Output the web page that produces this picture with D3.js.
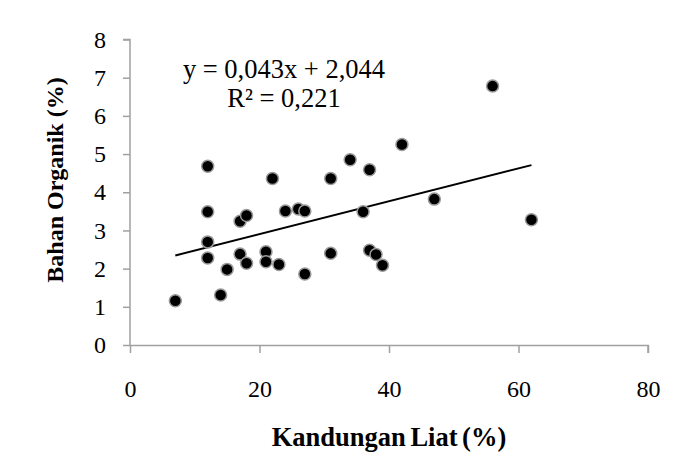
<!DOCTYPE html>
<html>
<head>
<meta charset="utf-8">
<script src="https://cdn.jsdelivr.net/npm/d3@7"></script>
<style>
  html, body { margin: 0; padding: 0; background: #fff; }
  svg { display: block; }
  text { font-family: "Liberation Serif", "Times New Roman", serif; fill: #000; }
</style>
</head>
<body>
<svg id="chart" width="676" height="476"></svg>
<script>
// Clay content (%) of each sample
const clay = [7, 12, 12, 12, 12, 14, 15, 17, 17, 18, 18, 21, 21, 22, 23, 24, 26, 27, 27,
              31, 31, 34, 36, 37, 37, 38, 39, 42, 47, 56, 62];
// Organic matter (%) of each sample
const organic = [1.16, 4.68, 3.49, 2.70, 2.28, 1.31, 1.98, 3.24, 2.38, 3.39, 2.14, 2.44, 2.18, 4.36, 2.11, 3.51, 3.56, 3.51, 1.86,
                 4.36, 2.40, 4.85, 3.49, 4.59, 2.48, 2.37, 2.09, 5.25, 3.82, 6.78, 3.28];
const xTicks = [0, 20, 40, 60, 80];
const yTicks = [0, 1, 2, 3, 4, 5, 6, 7, 8];
// Linear trend line: y = 0,043x + 2,044
const slope = 0.043, intercept = 2.044, r2 = "0,221";

const svg = d3.select("#chart");
const plotLeft = 130, plotRight = 648, plotTop = 39.5, plotBottom = 345;

const x = d3.scaleLinear().domain([0, 80]).range([plotLeft, plotRight]);
const y = d3.scaleLinear().domain([0, 8]).range([plotBottom, plotTop]);

const axisColor = "#a0a0a0";

// Y axis
const gy = svg.append("g").attr("transform", `translate(${plotLeft},0)`)
  .call(d3.axisLeft(y).tickValues(yTicks).tickSize(7).tickPadding(17).tickFormat(d3.format("d")));
// X axis
const gx = svg.append("g").attr("transform", `translate(0,${plotBottom})`)
  .call(d3.axisBottom(x).tickValues(xTicks).tickSize(8).tickPadding(27).tickFormat(d3.format("d")));

[gx, gy].forEach(g => {
  g.select(".domain").attr("stroke", axisColor).attr("stroke-width", 1.5);
  g.selectAll(".tick line").attr("stroke", axisColor).attr("stroke-width", 1.5);
  g.selectAll(".tick text").attr("font-size", 24).attr("font-family", "Liberation Serif, serif").attr("fill", "#000");
});
gx.select(".domain").attr("d", `M${plotLeft},0.5H${plotRight}V8`).attr("fill", "none");
gy.select(".domain").attr("d", `M-7,${plotTop}H0V${plotBottom}`).attr("fill", "none");

// Trend line across the data range
const xMin = d3.min(clay), xMax = d3.max(clay);
svg.append("line")
  .attr("x1", x(xMin)).attr("y1", y(slope * xMin + intercept))
  .attr("x2", x(xMax)).attr("y2", y(slope * xMax + intercept))
  .attr("stroke", "#000").attr("stroke-width", 2);

// Data points
svg.append("g").selectAll("circle")
  .data(clay.map((c, i) => [c, organic[i]]))
  .join("circle")
  .attr("cx", d => x(d[0]))
  .attr("cy", d => y(d[1]))
  .attr("r", 6)
  .attr("fill", "#000")
  .attr("stroke", "#9a9a9a")
  .attr("stroke-width", 1.5);

// Regression equation
svg.append("text").attr("x", 284).attr("y", 78).attr("text-anchor", "middle")
  .attr("font-size", 26.5).text("y = 0,043x + 2,044");
svg.append("text").attr("x", 284).attr("y", 107).attr("text-anchor", "middle")
  .attr("font-size", 26.5).text("R² = " + r2);

// Axis titles
svg.append("text").attr("x", 389).attr("y", 446).attr("text-anchor", "middle")
  .attr("font-size", 26.5).attr("font-weight", "bold").attr("word-spacing", -2).text("Kandungan Liat (%)");
svg.append("text").attr("transform", "translate(63,180) rotate(-90)").attr("text-anchor", "middle")
  .attr("font-size", 24).attr("font-weight", "bold").text("Bahan Organik (%)");
</script>
</body>
</html>
